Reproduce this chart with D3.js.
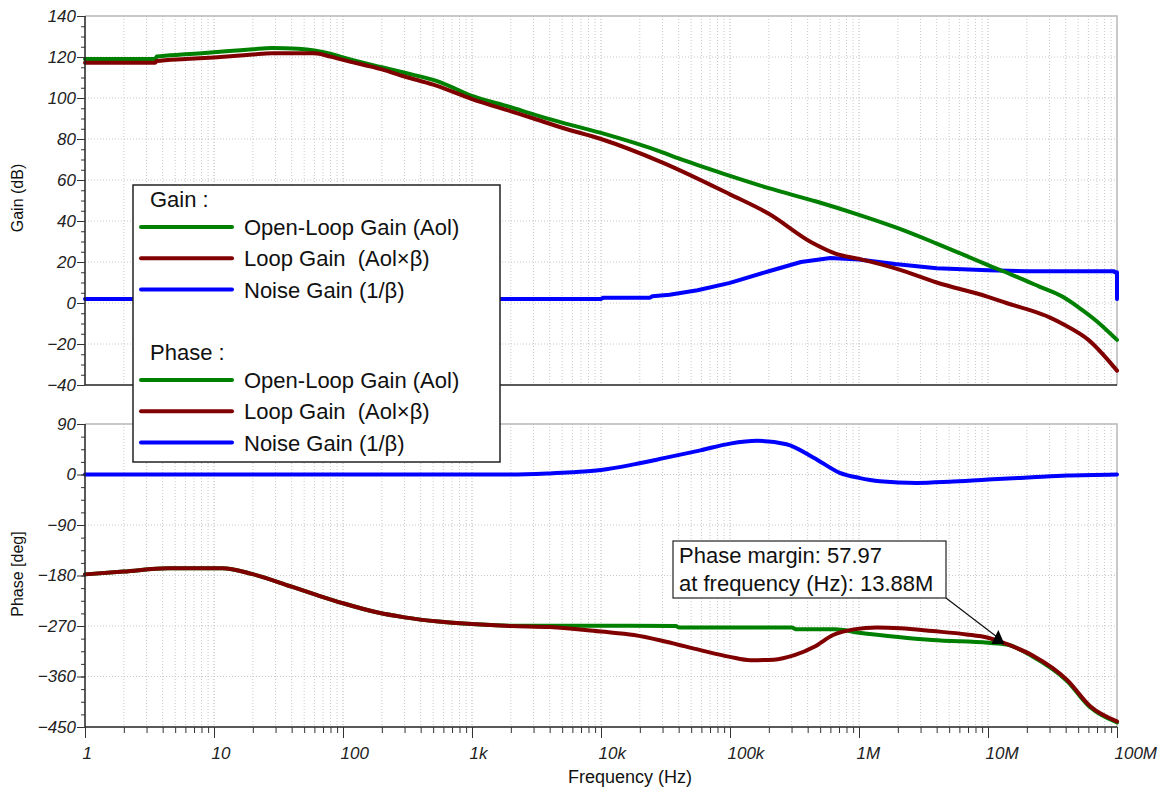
<!DOCTYPE html>
<html>
<head>
  <meta charset="UTF-8">
  <style>
    body { margin: 0; background: #fff; }
    svg { font-family: "Liberation Sans", Arial, sans-serif; }
    .grid line { stroke: #c8c8c8; stroke-dasharray: 1,2; }
    .grid line.major { stroke: #b4b4b4; }
    .curve { fill: none; stroke-width: 4px; stroke-linejoin: round; stroke-linecap: round; }
  </style>
</head>
<body>
<svg width="1164" height="792"></svg>

<script src="https://d3js.org/d3.v7.min.js"></script>
<script>

// ---- data ----
// gain (dB)
let aolGainF  = [1, 3.5, 3.6, 6, 10, 15, 20, 28, 45, 60, 80, 100, 200, 300, 550, 1e3, 2e3, 3e3, 5e3, 1e4, 3e4, 4e4, 1e5, 2e5, 4.67e5, 1e6, 2e6, 4e6, 1e7, 1.5e7, 2.5e7, 3.8e7, 5e7, 7e7, 1e8];
let aolGainV  = [119, 119, 120.2, 121.3, 122.3, 123.2, 123.8, 124.4, 124, 123.2, 121.6, 119.8, 115, 112.3, 108, 101, 95.5, 92, 88, 83, 73.5, 70.5, 62, 56, 49.5, 43, 36.5, 29, 18.5, 14, 8, 3, -2, -9, -18];

let loopGainF = [1, 3.5, 3.6, 6, 10, 15, 20, 28, 60, 80, 100, 200, 300, 500, 1e3, 2e3, 3e3, 5e3, 1e4, 3e4, 1e5, 2e5, 4.3e5, 6.65e5, 1e6, 2e6, 4e6, 1e7, 1.388e7, 2e7, 3e7, 4e7, 6e7, 1e8];
let loopGainV = [117.2, 117.2, 118, 119, 119.8, 120.6, 121.2, 121.8, 121.8, 120.2, 118.6, 114, 110.5, 106.5, 99.5, 93.5, 90, 85.5, 80, 68.5, 53, 43.5, 29.5, 24, 21.5, 16.5, 10, 3, 0, -3, -7, -11, -18, -33];

let noiseGainF = [1, 1e4, 1.05e4, 2.4e4, 2.5e4, 3.4e4, 5.6e4, 1e5, 2e5, 3.55e5, 6e5, 1e6, 1.9e6, 4e6, 1e7, 2e7, 9.5e7, 9.6e7, 9.95e7, 1e8, 1e8];
let noiseGainV = [2, 2, 2.6, 2.6, 3.3, 4, 6.2, 9.8, 15.5, 20, 22, 21.2, 19, 17, 16, 15.5, 15.5, 15, 15, 15, 2];

// phase (deg)
let aolPhaseF  = [1, 2, 4.4, 11.6, 19.5, 40, 63, 100, 186, 300, 550, 1e3, 2e3, 1e4, 3.8e4, 4e4, 3e5, 3.3e5, 6.5e5, 1e6, 2.1e6, 3.7e6, 1e7, 1.4e7, 2.2e7, 4.1e7, 6.2e7, 1e8];
let aolPhaseV  = [-178, -173, -167, -167, -177, -200, -215, -229.5, -246, -254.6, -262, -266.5, -269.5, -269.5, -270, -272.5, -272.5, -276, -276, -282, -290, -295, -300, -303, -324, -368, -415, -442];

let loopPhaseF = [1, 2, 4.4, 11.6, 19.5, 40, 63, 100, 186, 300, 550, 1e3, 2e3, 4e3, 1e4, 1.8e4, 3.2e4, 5.9e4, 1e5, 1.44e5, 2.18e5, 3.16e5, 4.5e5, 6.3e5, 9.1e5, 1.38e6, 2.1e6, 3.7e6, 6.8e6, 1e7, 1.388e7, 2.2e7, 4.1e7, 6.2e7, 1e8];
let loopPhaseV = [-178, -173, -167, -167, -177, -200, -215, -229.5, -246, -254.6, -262, -266.5, -270, -272, -280, -286, -298, -313, -325, -331, -330, -322, -307, -286, -276, -272.5, -274, -279, -285, -291, -302, -322, -366, -413, -440];

let noisePhaseF = [1, 2e3, 4e3, 6e3, 1e4, 1.8e4, 3.2e4, 5.9e4, 1e5, 1.62e5, 2.74e5, 4.45e5, 7.1e5, 1e6, 1.45e6, 2.8e6, 5e6, 1e7, 2.2e7, 4.1e7, 1e8];
let noisePhaseV = [0, 0, 2, 4, 8, 18, 30, 43, 55, 60, 54, 30, 3, -6, -12, -15, -13, -9, -5, -2, 0];

let decadeLabels = ["1", "10", "100", "1k", "10k", "100k", "1M", "10M", "100M"];
let gainTicks  = [-40, -20, 0, 20, 40, 60, 80, 100, 120, 140];
let phaseTicks = [-450, -360, -270, -180, -90, 0, 90];

let gainSeries  = [
  {name: "Noise Gain (1/β)",     f: noiseGainF, v: noiseGainV, color: "#0000ff"},
  {name: "Open-Loop Gain (Aol)", f: aolGainF,   v: aolGainV,   color: "#008000"},
  {name: "Loop Gain  (Aol×β)",   f: loopGainF,  v: loopGainV,  color: "#800000"}
];
let phaseSeries = [
  {name: "Noise Gain (1/β)",     f: noisePhaseF, v: noisePhaseV, color: "#0000ff"},
  {name: "Open-Loop Gain (Aol)", f: aolPhaseF,   v: aolPhaseV,   color: "#008000"},
  {name: "Loop Gain  (Aol×β)",   f: loopPhaseF,  v: loopPhaseV,  color: "#800000"}
];

// ---- layout ----
let left = 85, right = 1117;
let gainTop = 16, gainBottom = 385;
let phaseTop = 424, phaseBottom = 727;

let svg = d3.select("svg");

let x = d3.scaleLog().domain([1, 1e8]).range([left, right]);
let yGain = d3.scaleLinear().domain([-40, 140]).range([gainBottom, gainTop]);
let yPhase = d3.scaleLinear().domain([-450, 90]).range([phaseBottom, phaseTop]);

// all log ticks 1..9 per decade
let logTicks = [];
for (let k = 0; k < 8; k++)
  for (let m = 1; m < 10; m++) logTicks.push(m * Math.pow(10, k));
logTicks.push(1e8);
let isDecade = d => Math.abs(Math.log10(d) - Math.round(Math.log10(d))) < 1e-9;

function tickText(sel) {
  sel.selectAll("text")
    .attr("font-family", null).attr("font-size", null)
    .style("font-style", "italic").style("font-size", "17px").style("fill", "#222");
}

function panel(y, top, bottom, majors, minorStep, series, label, labelY) {
  let g = svg.append("g");

  // vertical grid
  g.append("g").attr("class", "grid")
    .selectAll("line").data(logTicks.filter(d => d > 1 && d < 1e8)).join("line")
      .attr("class", d => isDecade(d) ? "major" : null)
      .attr("x1", d => x(d)).attr("x2", d => x(d))
      .attr("y1", top).attr("y2", bottom);

  // horizontal grid
  g.append("g").attr("class", "grid")
    .selectAll("line").data(majors.slice(1, -1)).join("line")
      .attr("x1", left).attr("x2", right)
      .attr("y1", d => y(d)).attr("y2", d => y(d));

  // frame: top and right light grey
  g.append("path")
    .attr("d", `M${left},${top}H${right}V${bottom}`)
    .attr("fill", "none").attr("stroke", "#b8b8b8").attr("stroke-width", 1.5);

  // curves
  let line = d3.line().x(d => x(d[0])).y(d => y(d[1]));
  series.forEach(s => {
    let pts = s.f.map((f, i) => [f, s.v[i]]);
    let dup = s.f.some((f, i) => i > 0 && f === s.f[i - 1]);
    g.append("path").attr("class", "curve")
      .attr("stroke", s.color)
      .attr("d", line.curve(dup ? d3.curveLinear : d3.curveMonotoneX)(pts));
  });

  // left axis, minor then major
  let minors = d3.range(y.domain()[0], y.domain()[1] + 0.001, minorStep);
  g.append("g").attr("transform", `translate(${left},0)`)
    .call(d3.axisLeft(y).tickValues(minors).tickSize(4).tickFormat(""))
    .call(a => a.selectAll("line").attr("stroke", "#333"))
    .call(a => a.select(".domain").remove());
  g.append("g").attr("transform", `translate(${left},0)`)
    .call(d3.axisLeft(y).tickValues(majors).tickSize(8).tickPadding(1))
    .call(a => a.selectAll("line").attr("stroke", "#333"))
    .call(a => a.select(".domain").attr("stroke", "#222").attr("stroke-width", 1.5)
      .attr("d", `M0,${top}V${bottom}`))
    .call(tickText);

  // axis title
  svg.append("text")
    .attr("transform", `translate(23,${labelY}) rotate(-90)`)
    .attr("text-anchor", "middle")
    .style("font-size", "16px").style("fill", "#111")
    .text(label);
  return g;
}

panel(yGain, gainTop, gainBottom, gainTicks, 5, gainSeries, "Gain (dB)", 198);
panel(yPhase, phaseTop, phaseBottom, phaseTicks, 22.5, phaseSeries, "Phase [deg]", 574);

// bottom line of gain panel
svg.append("line")
  .attr("x1", left).attr("x2", right)
  .attr("y1", gainBottom).attr("y2", gainBottom)
  .attr("stroke", "#222").attr("stroke-width", 1.5);

// frequency axis
svg.append("g").attr("transform", `translate(0,${phaseBottom})`)
  .call(d3.axisBottom(x).tickValues(logTicks).tickSize(6).tickFormat(""))
  .call(a => a.selectAll("line").attr("stroke", "#333"))
  .call(a => a.select(".domain").attr("stroke", "#222").attr("stroke-width", 1.5)
    .attr("d", `M${left},0H${right}`));
svg.append("g").attr("transform", `translate(0,${phaseBottom})`)
  .call(d3.axisBottom(x).tickValues(logTicks.filter(isDecade)).tickSize(11).tickPadding(9)
    .tickFormat((d, i) => decadeLabels[i]))
  .call(a => a.selectAll("line").attr("stroke", "#333"))
  .call(a => a.select(".domain").remove())
  .call(tickText)
  .call(a => a.selectAll("text").attr("text-anchor", "start").attr("dx", -3));

svg.append("text")
  .attr("x", 630).attr("y", 783)
  .attr("text-anchor", "middle")
  .style("font-size", "18px").style("fill", "#111")
  .text("Frequency (Hz)");

// ---- legend ----
let legendFont = sel => sel.style("font-size", "22px").style("fill", "#111").style("white-space", "pre");
let legend = svg.append("g");
legend.append("rect")
  .attr("x", 133).attr("y", 185).attr("width", 367).attr("height", 277)
  .attr("fill", "#fff").attr("stroke", "#222").attr("stroke-width", 1.5);

let legendGroups = [
  {title: "Gain :", y: 207, rows: [gainSeries[1], gainSeries[2], gainSeries[0]], rowY: 227},
  {title: "Phase :", y: 360, rows: [phaseSeries[1], phaseSeries[2], phaseSeries[0]], rowY: 380}
];
legendGroups.forEach(lg => {
  legend.append("text").attr("x", 150).attr("y", lg.y).call(legendFont).text(lg.title);
  lg.rows.forEach((s, i) => {
    let yy = lg.rowY + i * 31.3;
    legend.append("line")
      .attr("x1", 141).attr("x2", 232).attr("y1", yy).attr("y2", yy)
      .attr("stroke", s.color).attr("stroke-width", 4).attr("stroke-linecap", "round");
    legend.append("text").attr("x", 244).attr("y", yy + 8).call(legendFont).text(s.name);
  });
});

// ---- phase margin annotation ----
let pmFreq = 13.88e6, pmPhase = -302.03;
let ann = svg.append("g");
ann.append("rect")
  .attr("x", 673).attr("y", 541).attr("width", 273).attr("height", 57)
  .attr("fill", "#fff").attr("stroke", "#222").attr("stroke-width", 1.2);
ann.append("text").attr("x", 679).attr("y", 563).call(legendFont).text("Phase margin: 57.97");
ann.append("text").attr("x", 679).attr("y", 591).call(legendFont).text("at frequency (Hz): 13.88M");

let mx = x(pmFreq) - 8, my = yPhase(pmPhase);
ann.append("line")
  .attr("x1", 946).attr("y1", 598).attr("x2", mx).attr("y2", my - 6)
  .attr("stroke", "#111").attr("stroke-width", 1.2);
ann.append("path")
  .attr("d", `M${mx},${my - 14}L${mx - 7},${my}L${mx + 6},${my}Z`)
  .attr("fill", "#000");

</script>
</body>
</html>
